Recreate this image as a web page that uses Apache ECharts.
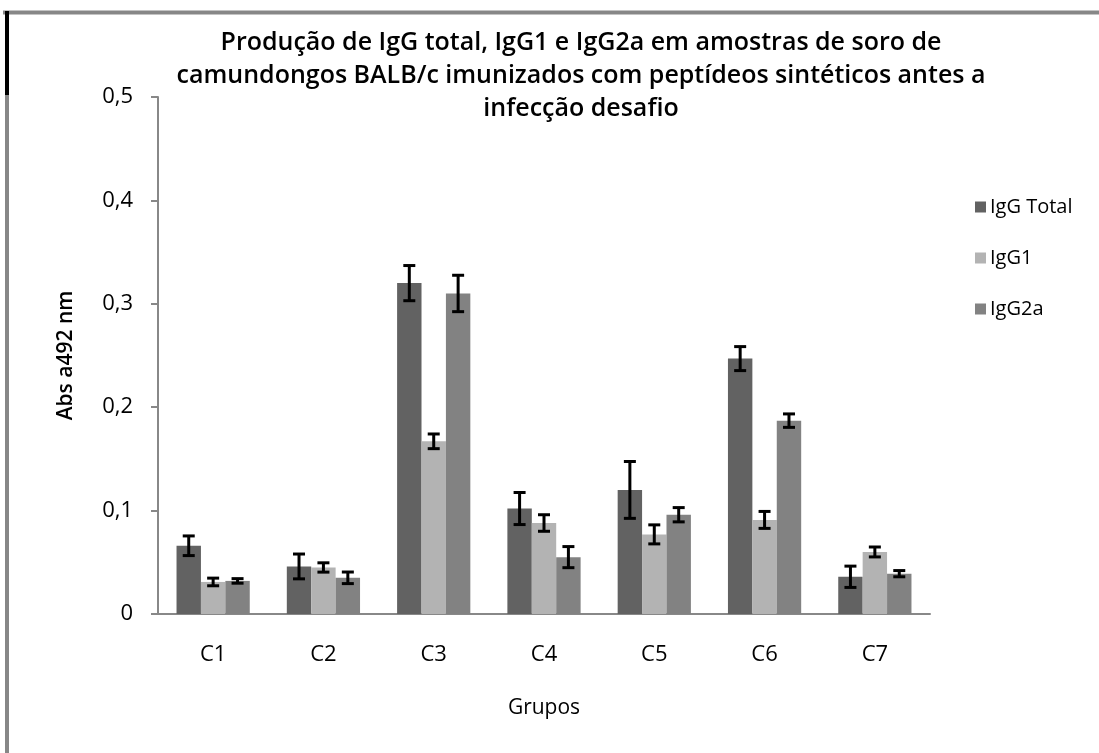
<!DOCTYPE html>
<html>
<head>
<meta charset="utf-8">
<script src="https://cdn.jsdelivr.net/npm/echarts@6/dist/echarts.min.js"></script>
<style>
  html, body { margin: 0; padding: 0; background: #fff; }
  #chart { width: 1099px; height: 753px; }
</style>
</head>
<body>
<div id="chart"></div>
<script>
// Groups and absorbance means (Abs a492 nm) with their error bar half-widths
const categories = ['C1', 'C2', 'C3', 'C4', 'C5', 'C6', 'C7'];
const seriesNames = ['IgG Total', 'IgG1', 'IgG2a'];
const iggTotal = [0.066, 0.046, 0.320, 0.102, 0.120, 0.247, 0.036];
const igg1     = [0.031, 0.045, 0.167, 0.088, 0.077, 0.091, 0.060];
const igg2a    = [0.032, 0.035, 0.310, 0.055, 0.096, 0.187, 0.039];
const errTotal = [0.0095, 0.012, 0.017, 0.0155, 0.0275, 0.0116, 0.0103];
const err1     = [0.0037, 0.0045, 0.0071, 0.008, 0.0092, 0.0082, 0.0048];
const err2a    = [0.0022, 0.0056, 0.0176, 0.0102, 0.0069, 0.0065, 0.003];
const yTicks = [0, 0.1, 0.2, 0.3, 0.4, 0.5];

const colors = ['#626262', '#b3b3b3', '#828282'];
const means = [iggTotal, igg1, igg2a];
const errs = [errTotal, err1, err2a];
const CAT_GAP = 0.336;
const FONT = '"Open Sans", sans-serif';

function errorBarSeries(k) {
  return {
    type: 'custom',
    name: seriesNames[k] + ' erro',
    z: 10,
    silent: true,
    data: categories.map((c, i) => [i, means[k][i], errs[k][i]]),
    renderItem: function (params, api) {
      const i = api.value(0), m = api.value(1), e = api.value(2);
      const band = api.size([1, 0])[0];
      const w = band * (1 - CAT_GAP) / 3;
      const base = api.coord([i, m]);
      const cx = base[0] + (k - 1) * w;
      const yt = api.coord([i, m + e])[1];
      const yb = api.coord([i, m - e])[1];
      const half = 6;
      const st = { stroke: '#000', lineWidth: 3 };
      return {
        type: 'group',
        children: [
          { type: 'line', shape: { x1: cx, y1: yt, x2: cx, y2: yb }, style: st },
          { type: 'line', shape: { x1: cx - half, y1: yt, x2: cx + half, y2: yt }, style: st },
          { type: 'line', shape: { x1: cx - half, y1: yb, x2: cx + half, y2: yb }, style: st }
        ]
      };
    }
  };
}

const chart = echarts.init(document.getElementById('chart'), null, { renderer: 'canvas' });
chart.setOption({
  backgroundColor: '#fff',
  animation: false,
  color: colors,
  title: {
    text: 'Produção de IgG total, IgG1 e IgG2a em amostras de soro de\ncamundongos BALB/c imunizados com peptídeos sintéticos antes a\ninfecção desafio',
    left: 576,
    top: 21,
    textAlign: 'center',
    textStyle: { fontFamily: FONT, fontSize: 25, fontWeight: 600, color: '#000', lineHeight: 33 }
  },
  legend: {
    orient: 'vertical',
    left: 970,
    top: 192,
    itemGap: 31,
    itemWidth: 11,
    itemHeight: 11,
    icon: 'rect',
    data: seriesNames,
    textStyle: { fontFamily: FONT, fontSize: 20, color: '#000', padding: [0, 0, 0, -1] }
  },
  grid: { left: 158, right: 169, top: 97, bottom: 139, containLabel: false },
  xAxis: {
    type: 'category',
    data: categories,
    name: 'Grupos',
    nameLocation: 'middle',
    nameGap: 84,
    nameTextStyle: { fontFamily: FONT, fontSize: 21, color: '#000' },
    axisLine: { lineStyle: { color: '#888', width: 2 } },
    axisTick: { show: false },
    axisLabel: { fontFamily: FONT, fontSize: 22, color: '#000', margin: 30 }
  },
  yAxis: {
    type: 'value',
    min: 0,
    max: 0.5,
    interval: 0.1,
    name: 'Abs a492 nm',
    nameLocation: 'middle',
    nameGap: 81,
    nameTextStyle: { fontFamily: FONT, fontSize: 21, fontWeight: 600, color: '#000' },
    axisLine: { show: true, lineStyle: { color: '#888', width: 2 } },
    axisTick: { show: true, length: 7, lineStyle: { color: '#888', width: 2 } },
    splitLine: { show: false },
    axisLabel: {
      fontFamily: FONT, fontSize: 22, color: '#000', margin: 25,
      formatter: v => {
        const t = yTicks.find(x => Math.abs(x - v) < 1e-9);
        return t === 0 ? '0' : String(t).replace('.', ',');
      }
    }
  },
  series: [
    ...seriesNames.map((n, k) => ({
      type: 'bar',
      name: n,
      data: means[k],
      barGap: '0%',
      barCategoryGap: (CAT_GAP * 100) + '%',
      itemStyle: { color: colors[k] }
    })),
    errorBarSeries(0), errorBarSeries(1), errorBarSeries(2)
  ],
  graphic: [
    { type: 'line', shape: { x1: 3, y1: 12.5, x2: 1099, y2: 12.5 }, style: { stroke: '#878787', lineWidth: 4 } },
    { type: 'line', shape: { x1: 7, y1: 95, x2: 7, y2: 753 }, style: { stroke: '#878787', lineWidth: 4 } },
    { type: 'line', shape: { x1: 7, y1: 11, x2: 7, y2: 95 }, style: { stroke: '#000', lineWidth: 4 } }
  ]
});
</script>
</body>
</html>
